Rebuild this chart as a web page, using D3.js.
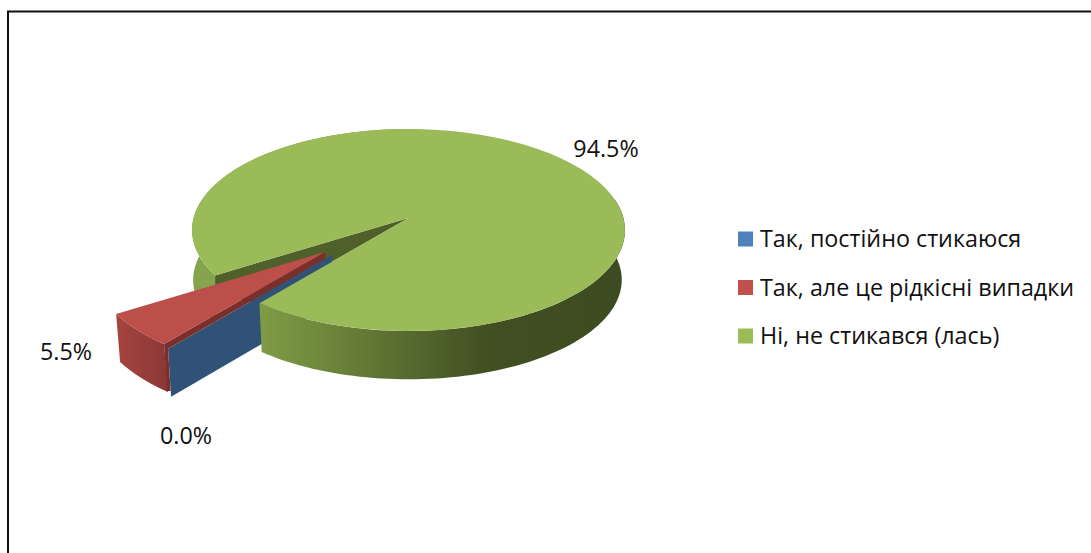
<!DOCTYPE html>
<html>
<head>
<meta charset="utf-8">
<script src="https://cdnjs.cloudflare.com/ajax/libs/d3/7.8.5/d3.min.js"></script>
<style>
  html, body { margin: 0; background: #fff; }
  svg { display: block; }
  text { font-family: "Open Sans", "Noto Sans", sans-serif; fill: #111; }
</style>
</head>
<body>
<svg width="1091" height="553"></svg>
<script>
var categories = ["Так, постійно стикаюся", "Так, але це рідкісні випадки", "Ні, не стикався (лась)"];
var values = [0.0, 5.5, 94.5];
var labels = ["0.0%", "5.5%", "94.5%"];
var colors = ["#4f81bd", "#c0504d", "#9bbb59"];

var svg = d3.select("svg");

// frame, open at the right and bottom of the picture
svg.append("path")
  .attr("d", "M8,553V11.5H1091")
  .attr("fill", "none").attr("stroke", "#111").attr("stroke-width", 2);

// first slice angle
var startAngle = 223.5 * Math.PI / 180;
var pie = d3.pie().sort(null).startAngle(startAngle).endAngle(startAngle + 2 * Math.PI);
var arcs = pie(values);

// fake 3d: ellipse with the apex a bit behind its centre
var rx = 216.5, ry = 101, skew = 12, depth = 48;
function project(a, r, o) {
  return [o.x + o.s * r * rx * Math.sin(a),
          o.y + o.s * r * (skew - ry * Math.cos(a))];
}
function rim(a0, a1, r, o, dz) {
  var n = 80, pts = [];
  d3.range(n + 1).forEach(function(i) {
    var p = project(a0 + (a1 - a0) * i / n, r, o);
    pts.push([p[0], p[1] + (dz || 0)]);
  });
  return pts;
}
var line = d3.line();
function poly(pts, fill) {
  return svg.append("path").attr("d", line(pts) + "Z").attr("fill", fill);
}

var green = { x: 408.5, y: 218, s: 1 };
var greenLow = { x: 408.5, y: 218, s: 0.985 };
var greenBackLow = { x: 409, y: 218, s: 0.997 };
var red = { x: 325, y: 252, s: 1.08 };
var blue = { x: 332, y: 255, s: 1.1 };

var defs = svg.append("defs");
var sideGreen = defs.append("linearGradient").attr("id", "sideGreen")
  .attr("gradientUnits", "userSpaceOnUse")
  .attr("x1", 192).attr("x2", 625).attr("y1", 0).attr("y2", 0);
[[0, "#88a64f"], [0.16, "#7f9b45"], [0.3, "#6f883c"], [0.5, "#566a2e"],
 [0.68, "#414f22"], [1, "#3d4b20"]].forEach(function(d) {
  sideGreen.append("stop").attr("offset", d[0]).attr("stop-color", d[1]);
});
var sideRed = defs.append("linearGradient").attr("id", "sideRed")
  .attr("gradientUnits", "userSpaceOnUse")
  .attr("x1", 117).attr("x2", 168).attr("y1", 0).attr("y2", 0);
sideRed.append("stop").attr("offset", 0).attr("stop-color", "#a6443f");
sideRed.append("stop").attr("offset", 1).attr("stop-color", "#8a3835");

var g0 = arcs[2].startAngle, g1 = arcs[2].endAngle;
var r0 = arcs[1].startAngle, r1 = arcs[1].endAngle;
var b0 = arcs[0].startAngle;

// green wall on the left, behind the red slice
var gBack = rim(g0, Math.PI * 2, 1, green, 0);
var gBackLow = rim(g0, Math.PI * 2, 1, greenBackLow, depth + 2);
poly(gBack.concat(gBackLow.reverse()), "#86a44e");

// inner wall of the green slice seen through the gap
var gEnd = project(g0, 1, green), gStart = project(g1, 1, green);
poly([[green.x, green.y], gEnd, [gEnd[0], gEnd[1] + 20], gStart, [green.x, green.y]], "#4f602b");

// blue slice has no area, only its wall shows
var bTip = project(b0, 1, blue);
poly([[blue.x, blue.y], bTip, [bTip[0] + 3, bTip[1] + 48], [blue.x, blue.y + 48]], "#2f5276");

// green front wall, in front of the blue one
var gFront = rim(Math.PI * 0.4, g1 - 2 * Math.PI, 1, green, 0);
var gFrontLow = rim(Math.PI * 0.4, g1 - 2 * Math.PI, 1, greenLow, depth + 2);
poly(gFront.concat(gFrontLow.reverse()), "url(#sideGreen)");

// red slice
var rOuter = rim(r0, r1, 1, red, 0);
var rLower = rOuter.map(function(p) { return [p[0] + 4, p[1] + 48]; });
poly(rOuter.concat(rLower.slice().reverse()), "url(#sideRed)");
var rFront = project(r0, 1, red);
poly([[red.x, red.y], [red.x, red.y + 7], bTip,
      [bTip[0] + 2.5, rFront[1] + 47], [rFront[0] + 3, rFront[1] + 47], rFront], "#7b2f2d");
poly([[red.x, red.y]].concat(rOuter), "#bd4f4b");

// green top face
poly([[green.x, green.y]].concat(rim(g0, g1, 1, green, 0)), colors[2]);

// data labels
var labelPos = [[186, 444], [66, 360], [606, 157]];
labels.forEach(function(d, i) {
  svg.append("text").attr("x", labelPos[i][0]).attr("y", labelPos[i][1])
    .attr("text-anchor", "middle").attr("font-size", 23.3).text(d);
});

// legend
var legendY = d3.scalePoint().domain(categories).range([239, 336]);
var legend = svg.selectAll(".legend").data(categories).enter().append("g")
  .attr("class", "legend")
  .attr("transform", function(d) { return "translate(738," + legendY(d) + ")"; });
legend.append("rect").attr("x", 0).attr("y", -7.5).attr("width", 15).attr("height", 15)
  .attr("fill", function(d, i) { return colors[i]; });
legend.append("text").attr("x", 22).attr("y", 8).attr("font-size", 23.3)
  .text(function(d) { return d; });
</script>
</body>
</html>
